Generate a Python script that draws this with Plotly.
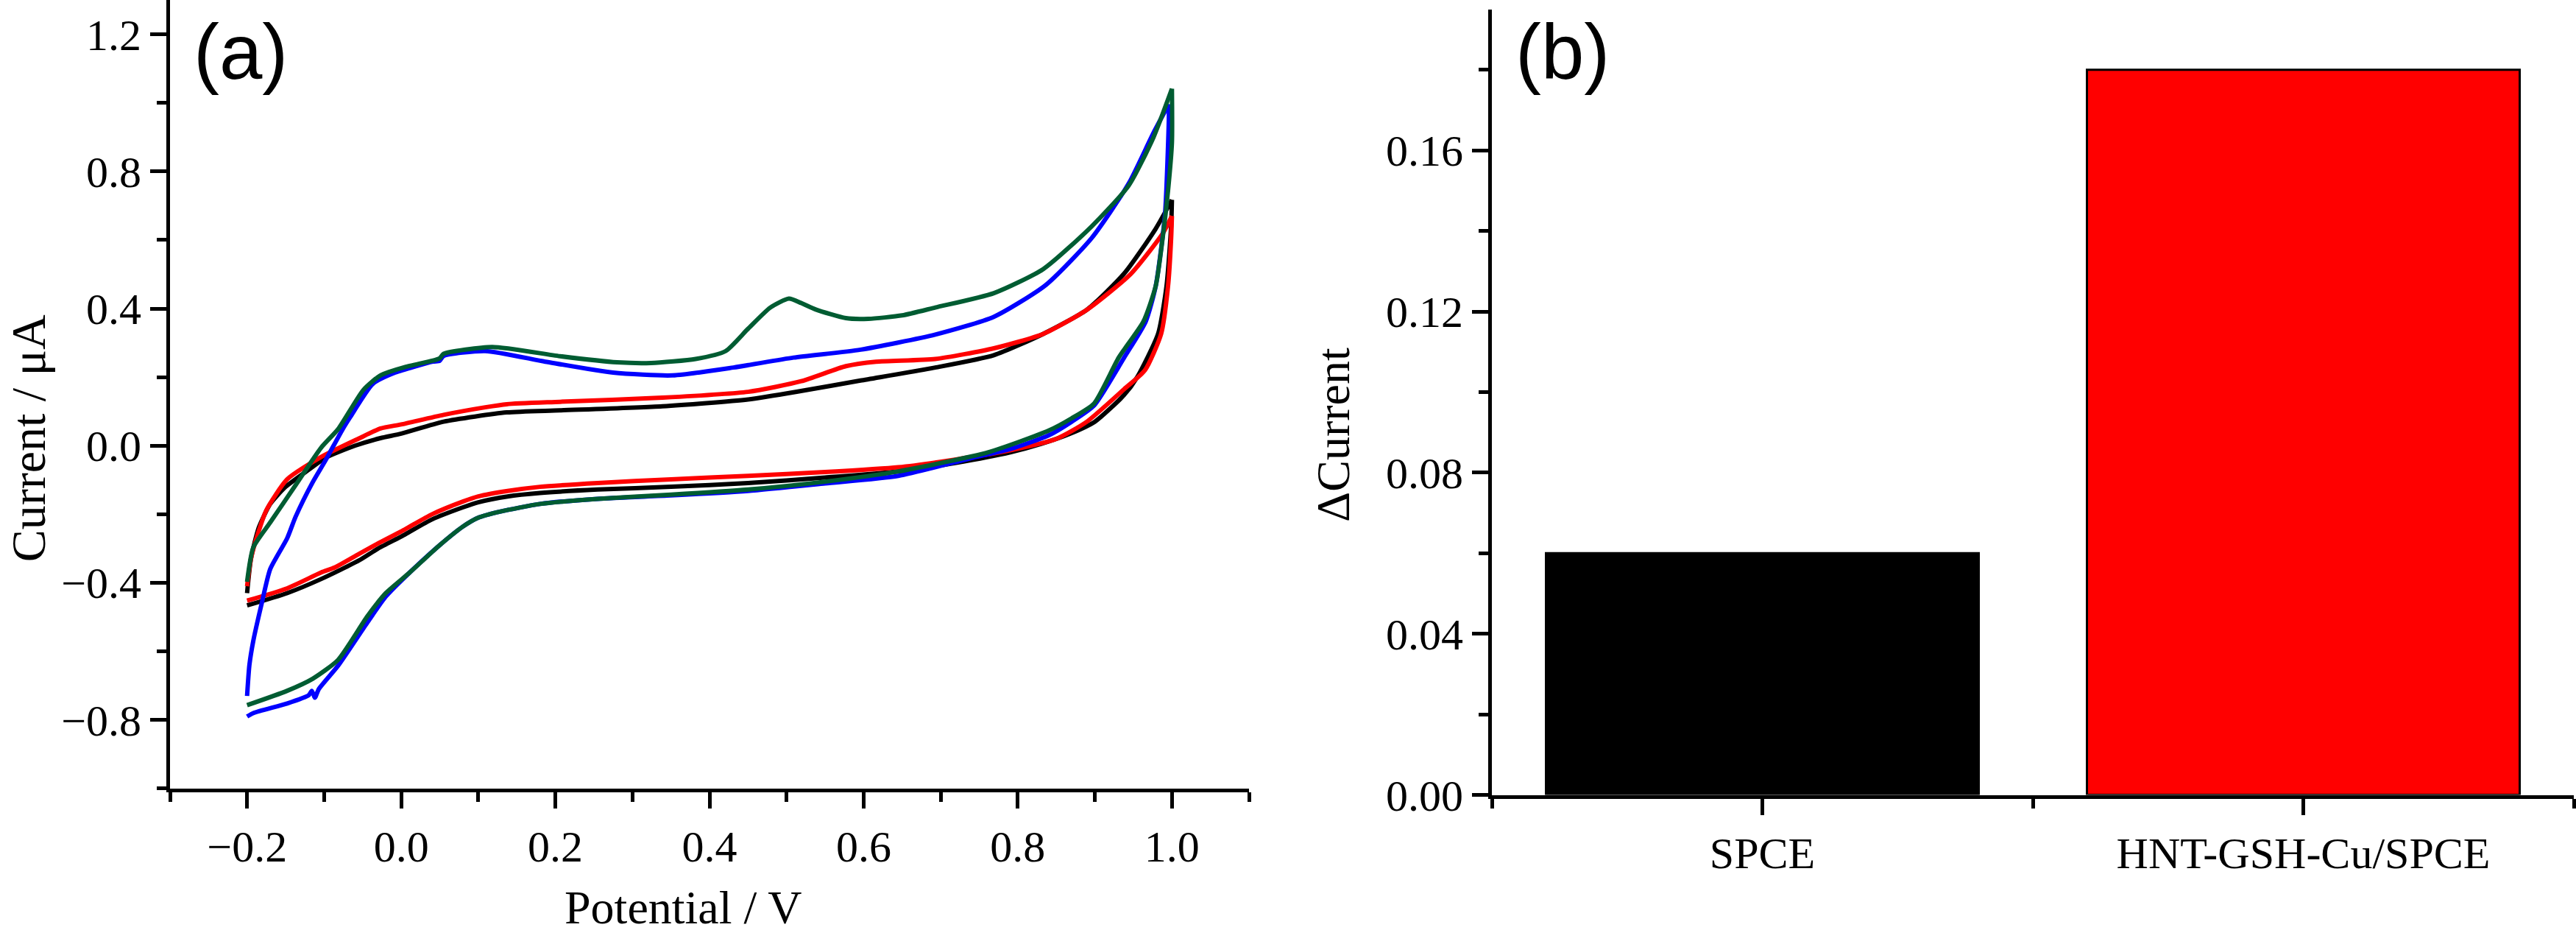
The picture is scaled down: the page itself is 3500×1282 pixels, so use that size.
import plotly.graph_objects as go

# ---------------- Panel (a): cyclic voltammograms ----------------
black_v = [-0.2, -0.195, -0.185, -0.17, -0.15, -0.12, -0.098, -0.06, -0.027, 0.0, 0.055, 0.137, 0.206, 0.339,
           0.45, 0.52, 0.596, 0.693, 0.769, 0.833, 0.89, 0.938, 0.979, 1.0,
           0.999, 0.993, 0.982, 0.955, 0.938, 0.9, 0.869, 0.83, 0.791, 0.72, 0.645, 0.55, 0.45, 0.35, 0.255,
           0.18, 0.138, 0.1, 0.08, 0.04, 0.011, 0.0, -0.03, -0.055, -0.104, -0.148, -0.2]
black_i = [-0.43, -0.33, -0.24, -0.17, -0.12, -0.07, -0.035, 0.0, 0.022, 0.035, 0.07, 0.097, 0.103, 0.115,
           0.135, 0.16, 0.19, 0.228, 0.264, 0.326, 0.397, 0.502, 0.633, 0.717,
           0.641, 0.466, 0.326, 0.2, 0.148, 0.07, 0.036, 0.005, -0.019, -0.05, -0.075, -0.093, -0.109, -0.12, -0.128,
           -0.138, -0.148, -0.165, -0.18, -0.215, -0.251, -0.265, -0.3, -0.335, -0.389, -0.43, -0.466]

red_v = [-0.2, -0.195, -0.185, -0.175, -0.148, -0.104, -0.055, -0.027, 0.0, 0.055, 0.109, 0.137, 0.206, 0.339,
         0.45, 0.519, 0.577, 0.616, 0.693, 0.769, 0.833, 0.89, 0.947, 0.988, 1.0,
         0.999, 0.995, 0.986, 0.965, 0.938, 0.889, 0.85, 0.791, 0.72, 0.645, 0.55, 0.45, 0.35, 0.255, 0.18,
         0.138, 0.1, 0.08, 0.04, 0.011, 0.0, -0.03, -0.055, -0.086, -0.104, -0.148, -0.2]
red_i = [-0.41, -0.33, -0.25, -0.188, -0.098, -0.033, 0.021, 0.05, 0.062, 0.09, 0.112, 0.121, 0.128, 0.14,
         0.157, 0.188, 0.232, 0.245, 0.253, 0.284, 0.326, 0.397, 0.502, 0.619, 0.67,
         0.606, 0.466, 0.326, 0.22, 0.165, 0.069, 0.02, -0.013, -0.04, -0.063, -0.077, -0.088, -0.098, -0.109, -0.12,
         -0.132, -0.148, -0.163, -0.2, -0.236, -0.25, -0.285, -0.316, -0.355, -0.37, -0.416, -0.452]

blue_v = [-0.2, -0.197, -0.192, -0.181, -0.17, -0.148, -0.137, -0.115, -0.098, -0.076, -0.066, -0.037, -0.008,
          0.041, 0.05, 0.055, 0.109, 0.187, 0.275, 0.352, 0.431, 0.509, 0.596, 0.693, 0.769, 0.836, 0.896, 0.944,
          0.976, 0.996,
          0.996, 0.991, 0.979, 0.966, 0.938, 0.899, 0.87, 0.84, 0.79, 0.742, 0.645, 0.55, 0.45, 0.35, 0.255, 0.18,
          0.129, 0.1, 0.08, 0.05, 0.011, -0.02, -0.044, -0.082, -0.107, -0.112, -0.116, -0.12, -0.148, -0.192, -0.2]
blue_i = [-0.73, -0.64, -0.57, -0.46, -0.36, -0.27, -0.207, -0.107, -0.042, 0.048, 0.084, 0.18, 0.213,
          0.245, 0.248, 0.262, 0.276, 0.245, 0.213, 0.205, 0.228, 0.257, 0.28, 0.324, 0.376, 0.468, 0.606, 0.765,
          0.912, 0.996,
          0.954, 0.675, 0.466, 0.362, 0.257, 0.117, 0.07, 0.03, -0.01, -0.035, -0.088, -0.11, -0.132, -0.145, -0.155,
          -0.17, -0.192, -0.21, -0.236, -0.29, -0.37, -0.44, -0.516, -0.642, -0.71, -0.735, -0.715, -0.728, -0.752,
          -0.78, -0.79]

green_v = [-0.2, -0.192, -0.17, -0.137, -0.104, -0.082, -0.049, -0.027, 0.006, 0.044, 0.05, 0.055, 0.118, 0.206,
           0.28, 0.324, 0.382, 0.421, 0.45, 0.479, 0.503, 0.519, 0.538, 0.577, 0.606, 0.65, 0.693, 0.769, 0.833,
           0.896, 0.944, 0.976, 1.0,
           1.0, 0.995, 0.988, 0.979, 0.963, 0.931, 0.899, 0.87, 0.84, 0.762, 0.645, 0.55, 0.45, 0.35, 0.255, 0.18,
           0.129, 0.1, 0.08, 0.05, 0.011, -0.02, -0.044, -0.082, -0.115, -0.148, -0.2]
green_i = [-0.397, -0.297, -0.224, -0.115, -0.006, 0.048, 0.163, 0.205, 0.23, 0.25, 0.255, 0.268, 0.288, 0.261,
           0.243, 0.241, 0.253, 0.276, 0.341, 0.403, 0.429, 0.416, 0.397, 0.372, 0.37, 0.38, 0.403, 0.445, 0.515,
           0.64, 0.759, 0.899, 1.041,
           0.884, 0.745, 0.606, 0.466, 0.362, 0.257, 0.123, 0.08, 0.044, -0.019, -0.075, -0.105, -0.128, -0.143,
           -0.155, -0.17, -0.192, -0.21, -0.236, -0.29, -0.37, -0.43, -0.498, -0.625, -0.68, -0.715, -0.757]

cv_series = [("black", black_v, black_i), ("#FF0000", red_v, red_i),
             ("#0000FF", blue_v, blue_i), ("#005C32", green_v, green_i)]

# ---------------- Panel (b): bar chart ----------------
bar_categories = ["SPCE", "HNT-GSH-Cu/SPCE"]
bar_values = [0.06, 0.18]
bar_colors = ["#000000", "#FF0000"]

W, H = 3500, 1282
SERIF = "Liberation Serif"
SANS = "Liberation Sans"

fig = go.Figure()
for color, v, i in cv_series:
    k = v.index(max(v))  # switching potential: split forward / reverse scans
    for xs, ys in ((v[:k + 1], i[:k + 1]), (v[k:], i[k:])):
        fig.add_trace(go.Scatter(x=xs, y=ys, mode="lines",
                                 line=dict(color=color, width=6, shape="spline", smoothing=0.6),
                                 xaxis="x", yaxis="y", showlegend=False))

bar_pos = list(range(len(bar_categories)))
fig.add_trace(go.Bar(x=bar_pos, y=bar_values, width=0.8,
                     marker=dict(color=bar_colors, line=dict(color="black", width=3)),
                     xaxis="x2", yaxis="y2", showlegend=False))

tickfont = dict(family=SERIF, size=60, color="black")
common = dict(showline=True, linewidth=5, linecolor="black", ticks="outside", ticklen=22, tickwidth=5,
              tickcolor="black", showgrid=False, zeroline=False, tickfont=tickfont)

fig.update_layout(
    width=W, height=H, margin=dict(l=0, r=0, t=0, b=0),
    paper_bgcolor="white", plot_bgcolor="white",
    xaxis=dict(domain=[231 / W, 1697 / W], range=[-0.3, 1.1], tick0=0, dtick=0.2, tickformat=".1f",
               anchor="y", minor=dict(dtick=0.1, tick0=-0.3, ticks="outside", ticklen=13, tickwidth=5,
                                      tickcolor="black"), **common),
    yaxis=dict(domain=[1 - 1100 / H, 1], range=[-1.0, 1.3], tick0=0, dtick=0.4, tickformat=".1f",
               anchor="x", minor=dict(dtick=0.2, tick0=0, ticks="outside", ticklen=13, tickwidth=5,
                                      tickcolor="black"), **common),
    xaxis2=dict(domain=[2027 / W, 3497 / W], range=[-0.5, 1.5], tickmode="array", tickvals=bar_pos,
                ticktext=bar_categories, anchor="y2",
                minor=dict(tickmode="array", tickvals=[-0.5, 0.5, 1.5], ticks="outside", ticklen=13,
                           tickwidth=5, tickcolor="black"), **common),
    yaxis2=dict(domain=[1 - 1109 / H, 1 - 13 / H], range=[0, 0.195], tick0=0, dtick=0.04, tickformat=".2f",
                anchor="x2", minor=dict(dtick=0.02, tick0=0, ticks="outside", ticklen=13, tickwidth=5,
                                        tickcolor="black"), **common),
)

ann = [
    dict(text="Current / μA", x=0, y=1 - 612 / H, xanchor="left", yanchor="middle", textangle=-90,
         font=dict(family=SERIF, size=66)),
    dict(text="Potential / V", x=928 / W, y=1 - 1266 / H, xanchor="center", yanchor="middle",
         font=dict(family=SERIF, size=64)),
    dict(text="ΔCurrent", x=1812 / W, y=1 - 607 / H, xanchor="center", yanchor="middle", textangle=-90,
         font=dict(family=SERIF, size=64)),
    dict(text="(a)", x=327 / W, y=1 - 72 / H, xanchor="center", yanchor="middle", font=dict(family=SANS, size=105)),
    dict(text="(b)", x=2123 / W, y=1 - 72 / H, xanchor="center", yanchor="middle", font=dict(family=SANS, size=105)),
]
for a in ann:
    a["font"]["color"] = "black"
    fig.add_annotation(xref="paper", yref="paper", showarrow=False, **a)

fig.write_html("out.html")
